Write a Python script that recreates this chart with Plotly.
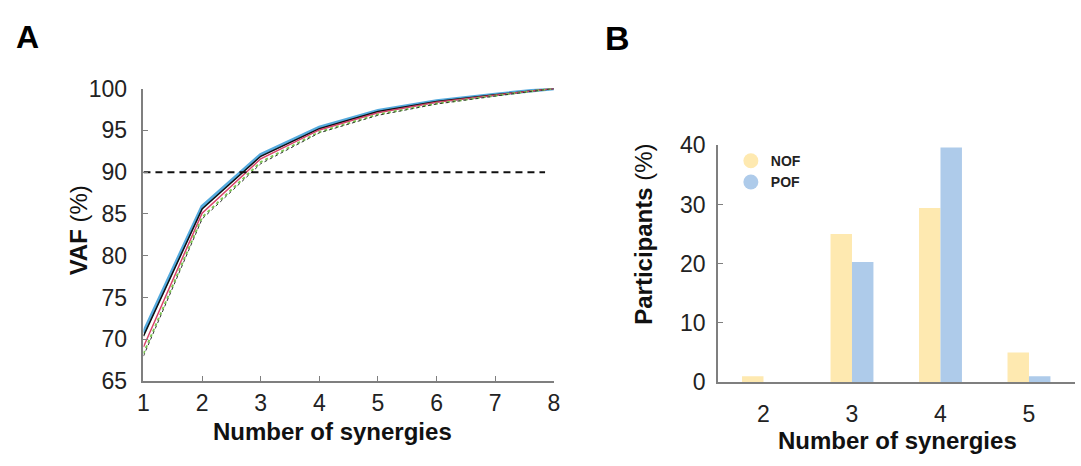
import plotly.graph_objects as go

W, H = 1081, 466

# ---- Panel A data ----
n_syn = [1, 2, 3, 4, 5, 6, 7, 8]
vaf_blue = [70.8, 85.9, 92.1, 95.35, 97.35, 98.5, 99.3, 100]
vaf_black = [70.4, 85.6, 91.9, 95.2, 97.25, 98.45, 99.25, 100]
vaf_red = [69.1, 85.1, 91.6, 95.05, 97.1, 98.35, 99.2, 100]
vaf_green = [68.3, 84.6, 91.2, 94.8, 96.9, 98.2, 99.15, 100]
vaf_black_dot = [68.0, 84.4, 91.0, 94.7, 96.8, 98.15, 99.1, 100]
threshold = 90
threshold_x = [1, 7.85]

# ---- Panel B data ----
syn_cats = [2, 3, 4, 5]
nof = [1.0, 25.0, 29.4, 5.0]
pof = [0.0, 20.3, 39.6, 1.0]

FONT = "Liberation Sans, Arial, sans-serif"
AX = "#7f7f7f"

def px(x):
    return x / W

def py(y):
    return 1 - y / H

fig = go.Figure()

line_specs = [
    (vaf_blue, dict(color="#55abde", width=3.5)),
    (vaf_black, dict(color="#111111", width=1.5)),
    (vaf_red, dict(color="#d8436a", width=1.5)),
    (vaf_green, dict(color="#7cc653", width=2, dash="dot")),
    (vaf_black_dot, dict(color="#333333", width=1, dash="dot")),
]
for vals, ln in line_specs:
    fig.add_trace(go.Scatter(x=n_syn, y=vals, mode="lines", line=ln,
                             showlegend=False, xaxis="x", yaxis="y", hoverinfo="skip"))

fig.add_trace(go.Scatter(x=threshold_x, y=[threshold, threshold], mode="lines",
                         line=dict(color="#111111", width=2, dash="7px,5px"),
                         showlegend=False, xaxis="x", yaxis="y"))

fig.add_trace(go.Bar(x=syn_cats, y=nof, marker=dict(color="#fee9b0", line=dict(width=0)),
                     showlegend=False, xaxis="x2", yaxis="y2", name="NOF"))
fig.add_trace(go.Bar(x=syn_cats, y=pof, marker=dict(color="#aecbea", line=dict(width=0)),
                     showlegend=False, xaxis="x2", yaxis="y2", name="POF"))

# legend proxies
fig.add_trace(go.Scatter(x=[None], y=[None], mode="markers", name="<b>NOF</b>",
                         marker=dict(symbol="circle", size=15, color="#fee9b0"),
                         xaxis="x2", yaxis="y2"))
fig.add_trace(go.Scatter(x=[None], y=[None], mode="markers", name="<b>POF</b>",
                         marker=dict(symbol="circle", size=15, color="#aecbea"),
                         xaxis="x2", yaxis="y2"))

tickfont = dict(family=FONT, size=23, color="#222222")

fig.update_layout(
    width=W, height=H,
    margin=dict(l=0, r=0, t=0, b=0),
    paper_bgcolor="white", plot_bgcolor="white",
    font=dict(family=FONT, color="#111111"),
    barmode="group", bargap=0.515, bargroupgap=0,
    xaxis=dict(domain=[px(139), px(554)], range=[1, 8], tickvals=n_syn,
               showgrid=False, zeroline=False, showline=True, linecolor=AX, linewidth=1.5,
               ticks="inside", ticklen=5, tickcolor=AX, tickfont=tickfont,
               anchor="y"),
    yaxis=dict(domain=[py(390), py(80)], range=[65, 100],
               tickvals=[65, 70, 75, 80, 85, 90, 95, 100],
               showgrid=False, zeroline=False, showline=True, linecolor=AX, linewidth=1.5,
               ticks="inside", ticklen=5, tickcolor=AX, tickfont=tickfont,
               ticklabelstandoff=10, anchor="x"),
    xaxis2=dict(domain=[px(720), 1.0], range=[1.486, 5.52], tickvals=syn_cats,
                showgrid=False, zeroline=False, showline=True, linecolor=AX, linewidth=1.5,
                ticks="", tickfont=tickfont, ticklabelstandoff=10, anchor="y2"),
    yaxis2=dict(domain=[py(391), py(140)], range=[0, 40], tickvals=[0, 10, 20, 30, 40],
                showgrid=False, zeroline=False, showline=True, linecolor=AX, linewidth=1.5,
                ticks="inside", ticklen=5, tickcolor=AX, tickfont=tickfont,
                ticklabelstandoff=6, anchor="x2"),
    legend=dict(x=px(733), y=py(140), xanchor="left", yanchor="top",
                bgcolor="rgba(0,0,0,0)", font=dict(family=FONT, size=14, color="#222222"),
                itemsizing="trace", tracegroupgap=0, itemwidth=30),
    annotations=[
        dict(text="<b>A</b>", x=px(8), y=py(25), xref="paper", yref="paper",
             xanchor="left", yanchor="middle", showarrow=False,
             font=dict(family=FONT, size=32, color="black")),
        dict(text="<b>B</b>", x=px(604), y=py(27), xref="paper", yref="paper",
             xanchor="left", yanchor="middle", showarrow=False,
             font=dict(family=FONT, size=34, color="black")),
        dict(text="<b>VAF</b> (%)", x=px(73), y=py(230), xref="paper", yref="paper",
             xanchor="center", yanchor="middle", showarrow=False, textangle=-90,
             font=dict(family=FONT, size=24, color="#111111")),
        dict(text="<b>Number of synergies</b>", x=px(330), y=py(443), xref="paper", yref="paper",
             xanchor="center", yanchor="middle", showarrow=False,
             font=dict(family=FONT, size=24, color="#111111")),
        dict(text="<b>Participants</b> (%)", x=px(645), y=py(234), xref="paper", yref="paper",
             xanchor="center", yanchor="middle", showarrow=False, textangle=-90,
             font=dict(family=FONT, size=24, color="#111111")),
        dict(text="<b>Number of synergies</b>", x=px(902), y=py(453), xref="paper", yref="paper",
             xanchor="center", yanchor="middle", showarrow=False,
             font=dict(family=FONT, size=24, color="#111111")),
    ],
)

fig.write_html("out.html")
